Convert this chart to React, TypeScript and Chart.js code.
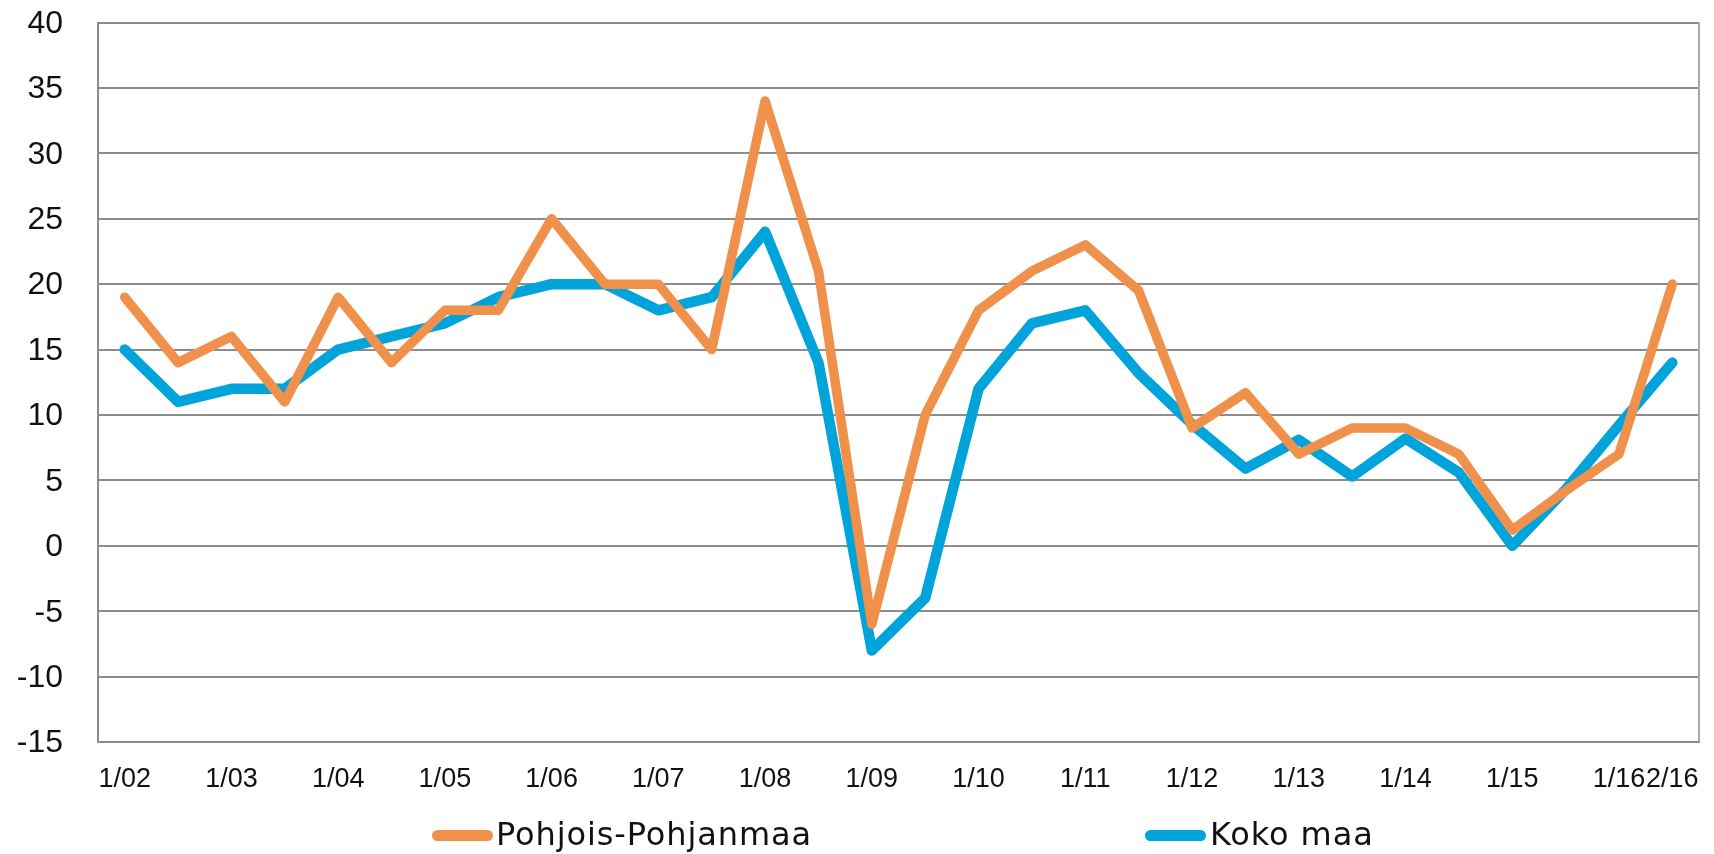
import React, { useEffect, useRef } from "react";
import { Chart, registerables } from "chart.js";

Chart.register(...registerables);

const periods = [
  "1/02", "2/02", "1/03", "2/03", "1/04", "2/04", "1/05", "2/05",
  "1/06", "2/06", "1/07", "2/07", "1/08", "2/08", "1/09", "2/09",
  "1/10", "2/10", "1/11", "2/11", "1/12", "2/12", "1/13", "2/13",
  "1/14", "2/14", "1/15", "2/15", "1/16", "2/16",
];

const pohjoisPohjanmaa = [
  19, 14, 16, 11, 19, 14, 18, 18,
  25, 20, 20, 15, 34, 21, -6, 10,
  18, 21, 23, 19.5, 9, 11.7, 7, 9,
  9, 7, 1.2, 4.2, 7, 20,
];

const kokoMaa = [
  15, 11, 12, 12, 15, 16, 17, 19,
  20, 20, 18, 19, 24, 14, -8, -4,
  12, 17, 18, 13.2, 9.3, 5.9, 8.1, 5.3,
  8.2, 5.6, 0, 4.3, 9.2, 14,
];

const seriesNames = ["Pohjois-Pohjanmaa", "Koko maa"];
const seriesColors = ["#F0914B", "#00A3DA"];

const yMin = -15;
const yMax = 40;
const yStep = 5;

const borderPlugin = {
  id: "rightBorder",
  beforeDatasetsDraw(chart: any) {
    const { ctx, chartArea } = chart;
    ctx.save();
    ctx.strokeStyle = "#a8a8a8";
    ctx.lineWidth = 2;
    ctx.beginPath();
    ctx.moveTo(chartArea.right, chartArea.top);
    ctx.lineTo(chartArea.right, chartArea.bottom);
    ctx.stroke();
    ctx.restore();
  },
};

export default function App() {
  const canvasRef = useRef<HTMLCanvasElement | null>(null);

  useEffect(() => {
    const canvas = canvasRef.current;
    if (!canvas) return;
    const chart = new Chart(canvas, {
      type: "line",
      data: {
        labels: periods,
        datasets: [
          {
            label: seriesNames[0],
            data: pohjoisPohjanmaa,
            borderColor: seriesColors[0],
            backgroundColor: seriesColors[0],
            borderWidth: 9.5,
            pointRadius: 0,
            tension: 0,
            borderCapStyle: "round",
            borderJoinStyle: "round",
            fill: false,
          },
          {
            label: seriesNames[1],
            data: kokoMaa,
            borderColor: seriesColors[1],
            backgroundColor: seriesColors[1],
            borderWidth: 10.5,
            pointRadius: 0,
            tension: 0,
            borderCapStyle: "round",
            borderJoinStyle: "round",
            fill: false,
          },
        ],
      },
      options: {
        responsive: false,
        animation: false,
        maintainAspectRatio: false,
        layout: { padding: { top: 22.5, right: 15, bottom: 0, left: 0 } },
        plugins: {
          legend: { display: false },
          tooltip: { enabled: false },
        },
        scales: {
          x: {
            type: "category",
            offset: true,
            afterFit: (scale: any) => {
              scale.height = 112;
            },
            grid: {
              display: true,
              drawOnChartArea: false,
              drawTicks: true,
              tickLength: 21,
              tickColor: "rgba(0,0,0,0)",
            },
            border: { display: true, color: "#8c8c8c", width: 2 },
            ticks: {
              autoSkip: false,
              maxRotation: 0,
              minRotation: 0,
              padding: 0,
              color: "#111",
              font: { family: "'Liberation Sans', Arial, sans-serif", size: 27 },
              callback: (_v: any, i: number) =>
                i % 2 === 0 || i === periods.length - 1 ? periods[i] : "",
            },
          },
          y: {
            min: yMin,
            max: yMax,
            afterFit: (scale: any) => {
              scale.width = 98;
            },
            grid: {
              color: "#8c8c8c",
              lineWidth: 2,
              drawTicks: true,
              tickLength: 35,
              tickColor: "rgba(0,0,0,0)",
            },
            border: { display: true, color: "#8c8c8c", width: 2 },
            ticks: {
              stepSize: yStep,
              padding: 0,
              labelOffset: 1.5,
              color: "#111",
              font: { family: "'Liberation Sans', Arial, sans-serif", size: 32 },
            },
          },
        },
      },
      plugins: [borderPlugin],
    });
    return () => chart.destroy();
  }, []);

  const legendText: React.CSSProperties = {
    position: "absolute",
    top: 818,
    fontFamily: "'DejaVu Sans', sans-serif",
    fontSize: 32,
    lineHeight: "32px",
    letterSpacing: "0.9px",
    color: "#111",
    whiteSpace: "nowrap",
  };
  const legendLine = (left: number, color: string): React.CSSProperties => ({
    position: "absolute",
    left,
    top: 830,
    width: 61,
    height: 11,
    borderRadius: 6,
    background: color,
  });

  return (
    <div style={{ position: "absolute", left: 0, top: 0, width: 1714, height: 854 }}>
      <canvas
        ref={canvasRef}
        width={1714}
        height={854}
        style={{ display: "block", width: 1714, height: 854 }}
      />
      <div style={legendLine(432, seriesColors[0])} />
      <div style={{ ...legendText, left: 496 }}>{seriesNames[0]}</div>
      <div style={legendLine(1145, seriesColors[1])} />
      <div style={{ ...legendText, left: 1210 }}>{seriesNames[1]}</div>
    </div>
  );
}
